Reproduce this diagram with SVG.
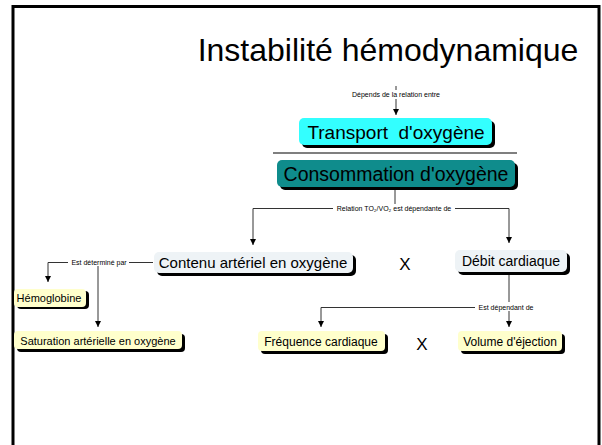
<svg xmlns="http://www.w3.org/2000/svg" width="602" height="445" viewBox="0 0 602 445">
<defs>
<style>
text{font-family:"Liberation Sans",Arial,sans-serif;fill:#000}
.sh{fill:#000}
.c{fill:none;stroke:#333;stroke-width:1}
.lbl{font-size:7px;text-anchor:middle}
.cyan{fill:#33FFFF}
.teal{fill:#0F8C8C}
.grey{fill:#EEF3F6}
.yel{fill:#FFFFCC}
</style>
<marker id="ah" markerWidth="8" markerHeight="8" refX="6" refY="3" orient="auto" markerUnits="userSpaceOnUse"><path d="M0,0 L6,3 L0,6 Z" fill="#000"/></marker>
</defs>
<rect width="602" height="445" fill="#fff"/>
<path d="M13,445 V6.5 H599 V445" fill="none" stroke="#000" stroke-width="3"/>
<text x="388" y="61" font-size="32" text-anchor="middle" xml:space="preserve">Instabilité hémodynamique</text>
<line x1="273" y1="153" x2="517" y2="153" stroke="#555" stroke-width="1.5"/>
<g id="connectors">
<path class="c" d="M396,86 V90"/>
<path class="c" d="M396,99 V115" marker-end="url(#ah)"/>
<path class="c" d="M395,188 V204"/>
<path class="c" d="M333,208.5 H253 V245" marker-end="url(#ah)"/>
<path class="c" d="M455,208.5 H509 V243" marker-end="url(#ah)"/>
<path class="c" d="M509,274 V302"/>
<path class="c" d="M475,307.5 H321 V327" marker-end="url(#ah)"/>
<path class="c" d="M509,311 V327" marker-end="url(#ah)"/>
<path class="c" d="M153,262.5 H129"/>
<path class="c" d="M68,262.5 H48 V282" marker-end="url(#ah)"/>
<path class="c" d="M98,266 V327" marker-end="url(#ah)"/>
<text class="lbl" x="396" y="97">Dépends de la relation entre</text>
<text class="lbl" x="394" y="211">Relation TO₂/VO₂ est dépendante de</text>
<text class="lbl" x="506" y="310">Est dépendant de</text>
<text class="lbl" x="99" y="265">Est déterminé par</text>
</g>
<g id="transport">
<rect class="sh" x="302" y="121" width="193" height="27" rx="5"/>
<rect class="cyan" x="299" y="118" width="193" height="27" rx="5"/>
<text x="396" y="138.5" font-size="19" text-anchor="middle" xml:space="preserve">Transport  d'oxygène</text>
</g>
<g id="consommation">
<rect class="sh" x="280" y="163" width="238" height="27" rx="5"/>
<rect class="teal" x="277" y="160" width="238" height="27" rx="5"/>
<text x="396" y="180.5" font-size="19.5" text-anchor="middle">Consommation d'oxygène</text>
</g>
<g id="contenu">
<rect class="sh" x="157" y="255" width="199" height="21" rx="5"/>
<rect class="grey" x="154" y="252" width="199" height="21" rx="5"/>
<text x="253" y="267.5" font-size="15" text-anchor="middle">Contenu artériel en oxygène</text>
</g>
<text x="405" y="270" font-size="17" text-anchor="middle">X</text>
<g id="debit">
<rect class="sh" x="458" y="253" width="112" height="22" rx="5"/>
<rect class="grey" x="455" y="250" width="112" height="22" rx="5"/>
<text x="511" y="266" font-size="14" text-anchor="middle">Débit cardiaque</text>
</g>
<g id="hemoglobine">
<rect class="sh" x="17" y="291" width="72" height="18" rx="4"/>
<rect class="yel" x="14" y="289" width="72" height="18" rx="4"/>
<text x="49" y="302" font-size="11" text-anchor="middle">Hémoglobine</text>
</g>
<g id="saturation">
<rect class="sh" x="17" y="334" width="168" height="18" rx="4"/>
<rect class="yel" x="14" y="331" width="168" height="18" rx="4"/>
<text x="98" y="344.5" font-size="11" text-anchor="middle">Saturation artérielle en oxygène</text>
</g>
<g id="frequence">
<rect class="sh" x="261" y="334" width="127" height="20" rx="4"/>
<rect class="yel" x="258" y="331" width="127" height="20" rx="4"/>
<text x="321" y="345.5" font-size="12" text-anchor="middle">Fréquence cardiaque</text>
</g>
<text x="422" y="350" font-size="17" text-anchor="middle">X</text>
<g id="volume">
<rect class="sh" x="461" y="334" width="104" height="20" rx="4"/>
<rect class="yel" x="458" y="331" width="104" height="20" rx="4"/>
<text x="510" y="345.5" font-size="12" text-anchor="middle">Volume d'éjection</text>
</g>
</svg>
